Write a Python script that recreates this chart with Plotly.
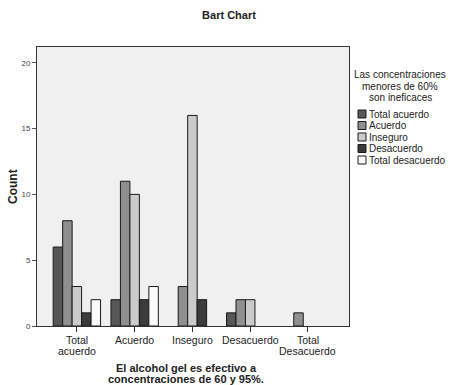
import plotly.graph_objects as go

categories = ["Total<br>acuerdo", "Acuerdo", "Inseguro", "Desacuerdo", "Total<br>Desacuerdo"]
series_names = ["Total acuerdo", "Acuerdo", "Inseguro", "Desacuerdo", "Total desacuerdo"]
total_acuerdo = [6, 2, 0, 1, 0]
acuerdo = [8, 11, 3, 2, 1]
inseguro = [3, 10, 16, 2, 0]
desacuerdo = [1, 2, 2, 0, 0]
total_desacuerdo = [2, 3, 0, 0, 0]
series_values = [total_acuerdo, acuerdo, inseguro, desacuerdo, total_desacuerdo]
colors = ["#575757", "#8f8f8f", "#cbcbcb", "#3b3b3b", "#fafafa"]
y_ticks = [0, 5, 10, 15, 20]
x_title_lines = ["El alcohol gel es efectivo a", "concentraciones de 60 y 95%."]
legend_title_lines = ["Las concentraciones", "menores de 60%", "son ineficaces"]

FONT = "Liberation Sans, Arial, sans-serif"
L, R, T, B = 37, 102, 47, 59
W, H = 451, 385
plot_w = W - L - R
plot_h = H - T - B


def py(y_px):
    """pixel row (from top of page) -> paper y"""
    return (H - B - y_px) / plot_h


def px(x_px):
    return (x_px - L) / plot_w


fig = go.Figure()
x_idx = list(range(len(categories)))
for name, vals, col in zip(series_names, series_values, colors):
    fig.add_trace(go.Bar(
        x=x_idx, y=[v if v else None for v in vals], name=name,
        marker=dict(color=col, line=dict(color="#1a1a1a", width=1)),
        showlegend=False, hoverinfo="skip",
    ))

fig.update_layout(
    width=W, height=H,
    margin=dict(l=L, r=R, t=T, b=B, autoexpand=False),
    paper_bgcolor="white", plot_bgcolor="#f0f0f0",
    barmode="group", bargap=0.18, bargroupgap=0,
    font=dict(family=FONT, size=10, color="#222"),
    title=dict(text="<b>Bart Chart</b>", x=229 / W, xanchor="center", y=1 - 15 / H, yanchor="middle",
               font=dict(size=11, color="#222")),
)
fig.update_xaxes(
    range=[-0.69, 4.71], tickvals=x_idx, showticklabels=False,
    ticks="outside", ticklen=5, tickcolor="#333",
    showline=True, linecolor="#333", linewidth=1, mirror=True,
    showgrid=False, zeroline=False, automargin=False,
)
fig.update_yaxes(
    range=[0, 21.2], tickvals=y_ticks,
    ticks="outside", ticklen=4, tickcolor="#555",
    showline=True, linecolor="#333", linewidth=1, mirror=True,
    showgrid=False, zeroline=False, automargin=False,
    tickfont=dict(size=8, color="#444"),
)

# category labels (tight line spacing)
for xi, cat in zip(x_idx, categories):
    for j, line in enumerate(cat.split("<br>")):
        fig.add_annotation(xref="x", yref="paper", x=xi, y=py(340 + 11 * j),
                           xanchor="center", yanchor="middle", showarrow=False,
                           text=line, font=dict(size=10.5, color="#222"))

# axis titles
for j, line in enumerate(x_title_lines):
    fig.add_annotation(xref="paper", yref="paper", x=px(186), y=py(368 + 11 * j),
                       xanchor="center", yanchor="middle", showarrow=False,
                       text=f"<b>{line}</b>", font=dict(size=11, color="#222"))
fig.add_annotation(xref="paper", yref="paper", x=px(13), y=py(187),
                   xanchor="center", yanchor="middle", showarrow=False, textangle=-90,
                   text="<b>Count</b>", font=dict(size=12, color="#222"))

# legend title
for j, line in enumerate(legend_title_lines):
    fig.add_annotation(xref="paper", yref="paper", x=px(400), y=py(74 + 12 * j),
                       xanchor="center", yanchor="middle", showarrow=False,
                       text=line, font=dict(size=10, color="#222"))

# legend items
for i, (name, col) in enumerate(zip(series_names, colors)):
    yc = py(114 + 11.5 * i)
    fig.add_shape(type="rect", xref="paper", yref="paper",
                  x0=px(358), x1=px(366), y0=yc - 4 / plot_h, y1=yc + 4 / plot_h,
                  fillcolor=col, line=dict(color="#1a1a1a", width=1))
    fig.add_annotation(xref="paper", yref="paper", x=px(367), y=yc,
                       xanchor="left", yanchor="middle", text=name, showarrow=False,
                       font=dict(size=10, color="#222"))

fig.write_html("out.html", config={"displayModeBar": False},
               post_script="document.body.style.margin='0';")
